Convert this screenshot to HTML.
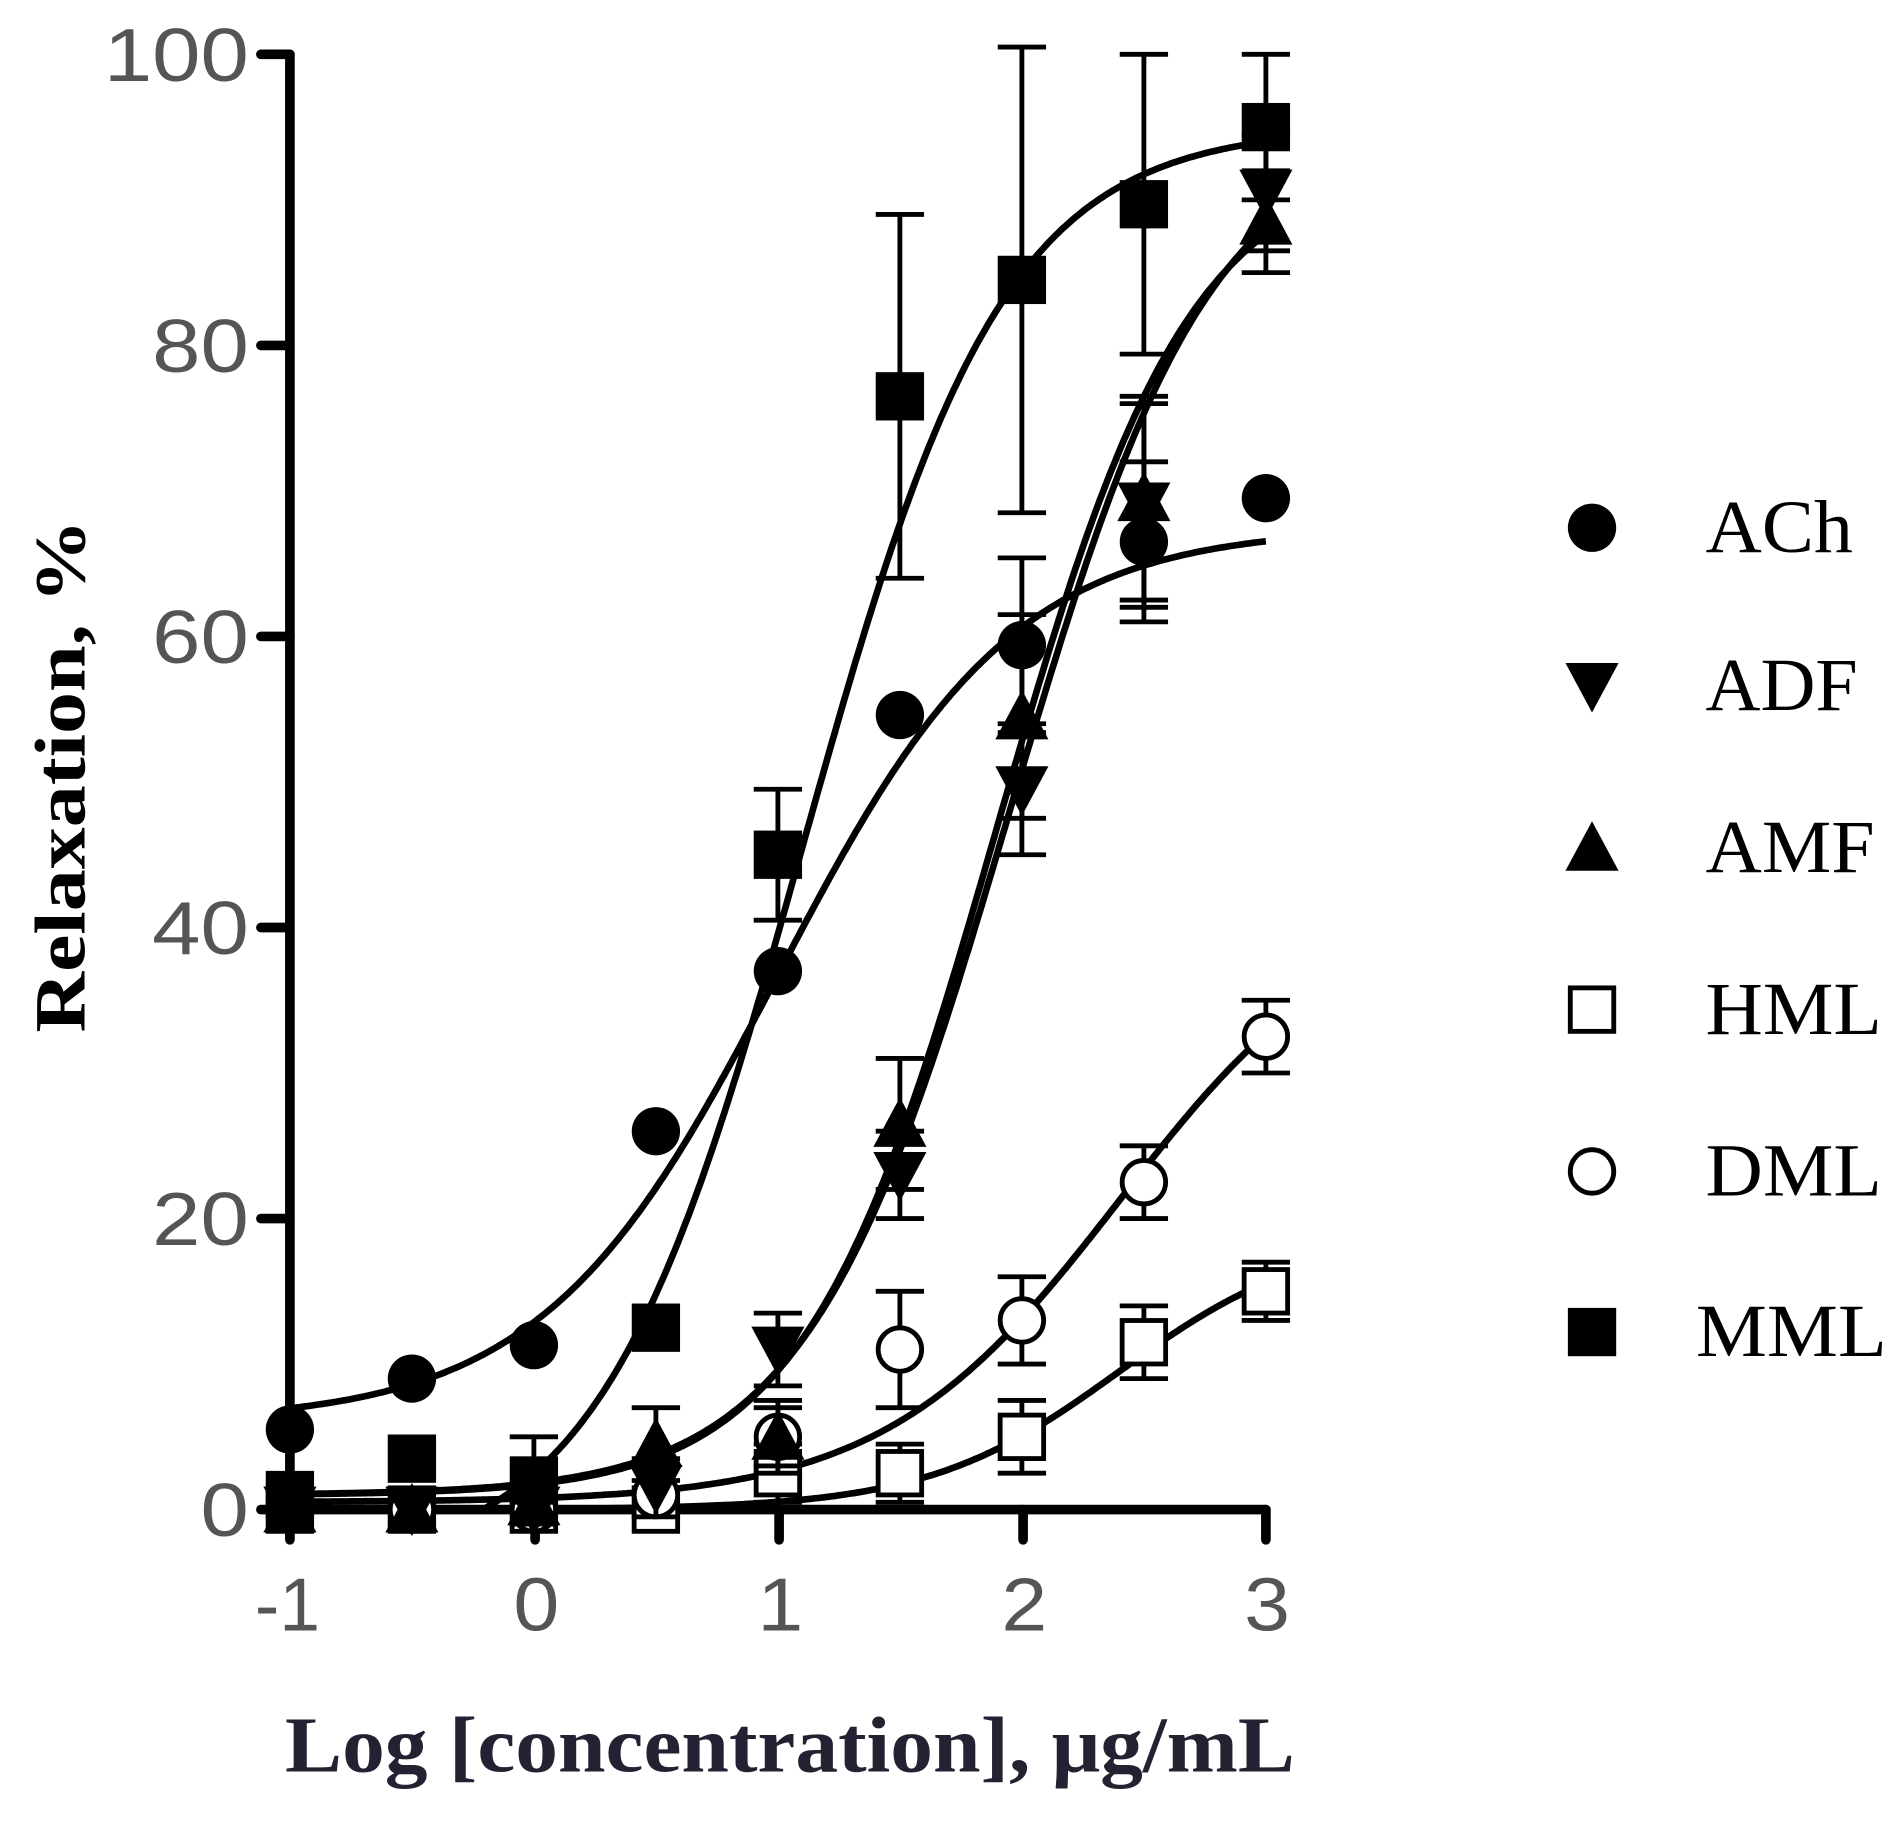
<!DOCTYPE html>
<html><head><meta charset="utf-8"><style>html,body{margin:0;padding:0;background:#fff}svg{display:block}</style></head>
<body>
<svg id="s" width="1894" height="1826" viewBox="0 0 1568 1512" preserveAspectRatio="none" xmlns="http://www.w3.org/2000/svg">
<g stroke="#000" stroke-width="8" stroke-linecap="round" fill="none">
<line x1="240" y1="45" x2="240" y2="1250"/>
<line x1="240" y1="1250" x2="1048" y2="1250"/>
<line x1="216" y1="45" x2="240" y2="45"/><line x1="216" y1="286" x2="240" y2="286"/><line x1="216" y1="527" x2="240" y2="527"/><line x1="216" y1="768" x2="240" y2="768"/><line x1="216" y1="1009" x2="240" y2="1009"/><line x1="216" y1="1250" x2="240" y2="1250"/>
<line x1="240" y1="1250" x2="240" y2="1275"/><line x1="443" y1="1250" x2="443" y2="1275"/><line x1="645" y1="1250" x2="645" y2="1275"/><line x1="847" y1="1250" x2="847" y2="1275"/><line x1="1048" y1="1250" x2="1048" y2="1275"/>
</g>
<g font-family="Liberation Sans, sans-serif" font-size="62" fill="#555" lengthAdjust="spacingAndGlyphs">
<text x="86" y="67" textLength="120" lengthAdjust="spacingAndGlyphs">100</text>
<text x="126" y="308" textLength="80" lengthAdjust="spacingAndGlyphs">80</text>
<text x="126" y="549" textLength="80" lengthAdjust="spacingAndGlyphs">60</text>
<text x="126" y="790" textLength="80" lengthAdjust="spacingAndGlyphs">40</text>
<text x="126" y="1031" textLength="80" lengthAdjust="spacingAndGlyphs">20</text>
<text x="166" y="1272" textLength="40" lengthAdjust="spacingAndGlyphs">0</text>
</g>
<g font-family="Liberation Sans, sans-serif" font-size="62" fill="#555">
<text x="211" y="1350" textLength="54" lengthAdjust="spacingAndGlyphs">-1</text>
<text x="425" y="1350" textLength="38" lengthAdjust="spacingAndGlyphs">0</text>
<text x="627" y="1350" textLength="38" lengthAdjust="spacingAndGlyphs">1</text>
<text x="829" y="1350" textLength="38" lengthAdjust="spacingAndGlyphs">2</text>
<text x="1030" y="1350" textLength="38" lengthAdjust="spacingAndGlyphs">3</text>
</g>
<text transform="translate(70,855) rotate(-90)" font-family="Liberation Serif, serif" font-weight="bold" font-size="60" fill="#000" textLength="425" lengthAdjust="spacingAndGlyphs">Relaxation, %</text>
<text x="236" y="1467" font-family="Liberation Serif, serif" font-weight="bold" font-size="66" fill="#222233" textLength="836" lengthAdjust="spacingAndGlyphs">Log [concentration], μg/mL</text>
<g font-family="Liberation Serif, serif" font-size="62" fill="#000">
<text x="1412" y="457" textLength="122" lengthAdjust="spacingAndGlyphs">ACh</text>
<text x="1412" y="588" textLength="126" lengthAdjust="spacingAndGlyphs">ADF</text>
<text x="1412" y="722" textLength="140" lengthAdjust="spacingAndGlyphs">AMF</text>
<text x="1412" y="856" textLength="146" lengthAdjust="spacingAndGlyphs">HML</text>
<text x="1412" y="990" textLength="146" lengthAdjust="spacingAndGlyphs">DML</text>
<text x="1404" y="1123" textLength="158" lengthAdjust="spacingAndGlyphs">MML</text>
</g>
<g id="d"></g>
</svg>
<script>
var NS="http://www.w3.org/2000/svg",g=document.getElementById('d');
function X(v){return 240+(v+1)*202}function Y(v){return 1250-v*12.05}
function el(t,a){var e=document.createElementNS(NS,t);for(var k in a)e.setAttribute(k,a[k]);g.appendChild(e);return e}
function curve(b,t,ec,h){var d="";for(var i=0;i<=400;i++){var x=-1+i/100;var y=b+(t-b)/(1+Math.pow(10,(ec-x)*h));if(y<0)y=0;d+=(i?"L":"M")+X(x).toFixed(1)+" "+Y(y).toFixed(1)}
el('path',{d:d,fill:'none',stroke:'#000','stroke-width':5.5})}
function marker(type,cx,cy){
 if(type=='c')el('circle',{cx:cx,cy:cy,r:20,fill:'#000'});
 if(type=='oc')el('circle',{cx:cx,cy:cy,r:18,fill:'#fff',stroke:'#000','stroke-width':4});
 if(type=='s')el('rect',{x:cx-20,y:cy-20,width:40,height:40,fill:'#000'});
 if(type=='os')el('rect',{x:cx-18,y:cy-18,width:36,height:36,fill:'#fff',stroke:'#000','stroke-width':4});
 if(type=='d')el('polygon',{points:(cx-22)+","+(cy-19)+" "+(cx+22)+","+(cy-19)+" "+cx+","+(cy+22),fill:'#000'});
 if(type=='u')el('polygon',{points:(cx-22)+","+(cy+19)+" "+(cx+22)+","+(cy+19)+" "+cx+","+(cy-22),fill:'#000'});
}
function series(type,pts){pts.forEach(function(p){var cx=X(p[0]),cy=Y(p[1]);if(p[2]){var a=Y(p[1]+p[2]),b=Y(p[1]-p[2]);
 el('path',{d:"M"+cx+" "+a+"L"+cx+" "+b+"M"+(cx-20)+" "+a+"L"+(cx+20)+" "+a+"M"+(cx-20)+" "+b+"L"+(cx+20)+" "+b,stroke:'#000','stroke-width':4,fill:'none'})}
 marker(type,cx,cy)})}
curve(6,67.5,1.0,0.9);
curve(-4,95,1.1,1.05);
curve(1,95,1.95,1.05);
curve(1,93,1.9,1.1);
curve(0.5,42,2.4,0.9);
curve(0,19,2.4,1.1);
series('os',[[-1,0],[-0.5,0],[0,0],[0.5,0],[1,2.5,2],[1.5,2.5,2],[2,5,2.5],[2.5,11.5,2.5],[3,15,2]]);
series('oc',[[-1,0],[-0.5,0],[0,0],[0.5,1],[1,5,2.5],[1.5,11,4],[2,13,3],[2.5,22.5,2.5],[3,32.5,2.5]]);
series('d',[[-1,0],[-0.5,0],[0,0],[0.5,1.5,2],[1,11,2.5],[1.5,23,3],[2,49.5,4.5],[2.5,69,7],[3,90.5,4]]);
series('u',[[-1,0],[-0.5,0],[0,0.5],[0.5,4.5,2.5],[1,5,2],[1.5,26.5,4.5],[2,54.5,7],[2.5,69.5,7],[3,88.5,3.5]]);
series('c',[[-1,5.5],[-0.5,9],[0,11.3],[0.5,26],[1,37],[1.5,54.6],[2,59.4,6],[2.5,66.5,5.5],[3,69.5]]);
series('s',[[-1,1],[-0.5,3.5],[0,2,3],[0.5,12.5],[1,45,4.5],[1.5,76.5,12.5],[2,84.5,16],[2.5,89.7,10.3],[3,95,5]]);
marker('c',1318,437);marker('d',1318,568);marker('u',1318,702);marker('os',1318,836);marker('oc',1318,970);marker('s',1318,1103);
</script>
</body></html>
